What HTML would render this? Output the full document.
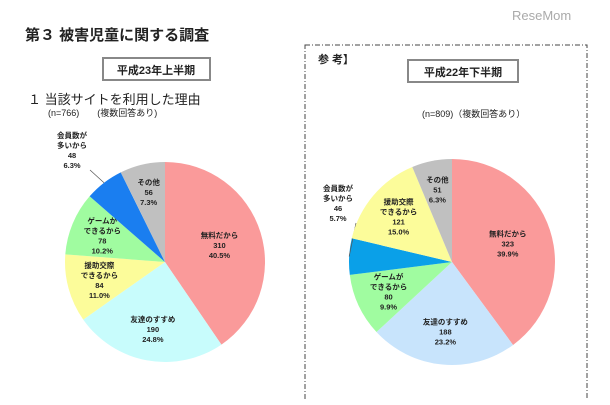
<!DOCTYPE html>
<html><head><meta charset="utf-8">
<style>
body{margin:0;width:610px;height:400px;background:#fff;overflow:hidden;font-family:"Liberation Sans","Noto Sans CJK JP",sans-serif;}
svg text{font-family:"Liberation Sans","Noto Sans CJK JP",sans-serif;}
</style></head><body>
<svg width="610" height="400">
<text x="512" y="20" font-size="13" fill="#aaa">ReseMom</text>
<text x="25" y="40" font-size="15" font-weight="bold" fill="#222">第３ 被害児童に関する調査</text>
<rect x="103" y="58" width="107" height="22" fill="#fff" stroke="#888" stroke-width="2"/>
<text x="156" y="74" font-size="11" font-weight="bold" text-anchor="middle" fill="#222">平成23年上半期</text>
<text x="28" y="104" font-size="13" fill="#222">１ 当該サイトを利用した理由</text>
<text x="48" y="116" font-size="9" fill="#222">(n=766)　　(複数回答あり)</text>
<rect x="305" y="45" width="282" height="360" fill="none" stroke="#444" stroke-dasharray="5,2,1,2"/>
<text x="318" y="63" font-size="11" font-weight="bold" fill="#222">参 考】</text>
<rect x="408" y="60" width="110" height="22" fill="#fff" stroke="#888" stroke-width="2"/>
<text x="463" y="76" font-size="11" font-weight="bold" text-anchor="middle" fill="#222">平成22年下半期</text>
<text x="422" y="117" font-size="9" fill="#222">(n=809)（複数回答あり）</text>
<g id="pies"></g>
</svg>
<script>
const leftLabels=["無料だから","友達のすすめ","援助交際\nできるから","ゲームが\nできるから","会員数が\n多いから","その他"];
const leftCounts=[310,190,84,78,48,56];
const leftPercents=[40.5,24.8,11.0,10.2,6.3,7.3];
const leftColors=["#fa9a9a","#c8fcfc","#fcfc9a","#a0fca0","#1a7ef0","#c0c0c0"];
const rightLabels=["無料だから","友達のすすめ","ゲームが\nできるから","会員数が\n多いから","援助交際\nできるから","その他"];
const rightCounts=[323,188,80,46,121,51];
const rightPercents=[39.9,23.2,9.9,5.7,15.0,6.3];
const rightColors=["#fa9a9a","#c8e4fc","#a0fca0","#0aa0e8","#fcfc9a","#c0c0c0"];
const NS="http://www.w3.org/2000/svg";
const g=document.getElementById('pies');
function mk(t,a){const e=document.createElementNS(NS,t);for(const k in a)e.setAttribute(k,a[k]);return e;}
function pie(name,cx,cy,r,labels,counts,pcts,colors,outsideIdx,outPos){
  const tot=pcts.reduce((a,b)=>a+b,0);
  let a0=0;
  pcts.forEach((p,i)=>{
    const a1=a0+p/tot*2*Math.PI;
    const x0=cx+r*Math.sin(a0),y0=cy-r*Math.cos(a0),x1=cx+r*Math.sin(a1),y1=cy-r*Math.cos(a1);
    const path=mk('path',{d:`M${cx},${cy}L${x0},${y0}A${r},${r} 0 ${a1-a0>Math.PI?1:0} 1 ${x1},${y1}Z`,fill:colors[i],stroke:'none'});
    
    
    g.appendChild(path);
    const am=(a0+a1)/2;
    let lx,ly;
    if(i===outsideIdx){lx=outPos[0];ly=outPos[1];
      const ln=mk('line',{x1:cx+r*Math.sin(am),y1:cy-r*Math.cos(am),x2:lx+18,y2:ly+20,stroke:'#555','stroke-width':0.7});
      
      
      g.appendChild(ln);
    } else {const k=p>30?0.57:(p<8?0.72:0.68);lx=cx+r*k*Math.sin(am);ly=cy-r*k*Math.cos(am);}
    const lines=labels[i].split('\n').concat([String(counts[i]),pcts[i].toFixed(1)+'%']);
    const t=mk('text',{x:lx,y:ly-(lines.length-1)*5+3,'font-size':7.5,'font-weight':'bold','text-anchor':'middle',fill:'#222'});
    
    
    lines.forEach((s,j)=>{const ts=mk('tspan',{x:lx,dy:j?10:0});ts.textContent=s;t.appendChild(ts);});
    g.appendChild(t);
    a0=a1;
  });
}
pie('left-pie',165,262,100,leftLabels,leftCounts,leftPercents,leftColors,4,[72,150]);
pie('right-pie',452,262,103,rightLabels,rightCounts,rightPercents,rightColors,3,[338,203]);
</script>
</body></html>
